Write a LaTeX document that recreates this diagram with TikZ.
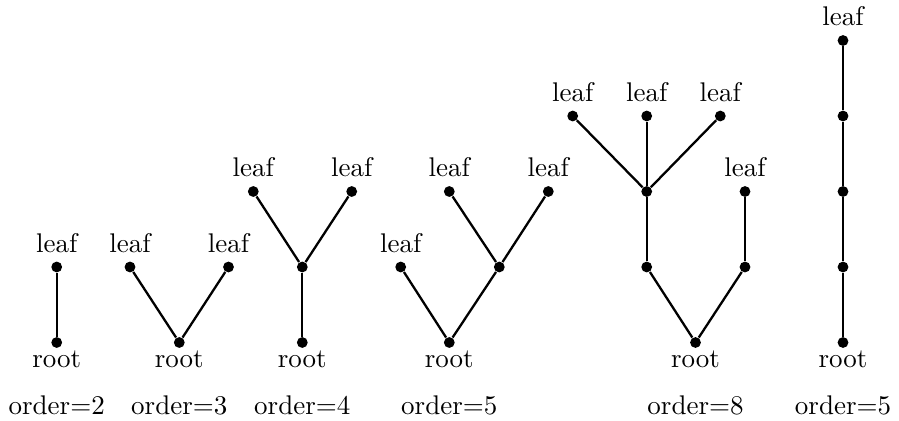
\documentclass[tikz,border=0pt]{standalone}
\begin{document}
\begin{tikzpicture}[x=0.3704pt,y=-0.3704pt,
  vtx/.style={circle,fill=black,inner sep=0pt,minimum size=4pt},
  edge/.style={line width=0.85pt},
  lbl/.style={anchor=base,inner sep=0pt}]
\useasboundingbox (0,0) rectangle (899,420);

% levels (top to bottom): 40.5, 116, 191.5, 267, 342.5
% --- tree of order 2
\node[vtx] (a0) at (56.7,342.5) {};
\node[vtx] (a1) at (56.7,267) {};
\draw[edge] (a0) -- (a1);
\node[lbl] (a0t) at ([yshift=-24.5*0.3704pt]a0) {root};
\node[lbl] (a1t) at ([yshift=15*0.3704pt]a1) {leaf};
\node[lbl] (ao) at (56.7,414.5) {order$=$2};

% --- tree of order 3
\node[vtx] (b0) at (179.3,342.5) {};
\node[vtx] (b1) at (130,267) {};
\node[vtx] (b2) at (228.5,267) {};
\draw[edge] (b1) -- (b0) -- (b2);
\node[lbl] (b0t) at ([yshift=-24.5*0.3704pt]b0) {root};
\node[lbl] (b1t) at ([yshift=15*0.3704pt]b1) {leaf};
\node[lbl] (b2t) at ([yshift=15*0.3704pt]b2) {leaf};
\node[lbl] (bo) at (179.3,414.5) {order$=$3};

% --- tree of order 4
\node[vtx] (c0) at (302.3,342.5) {};
\node[vtx] (c1) at (302.3,267) {};
\node[vtx] (c2) at (253.3,191.5) {};
\node[vtx] (c3) at (351.7,191.5) {};
\draw[edge] (c0) -- (c1);
\draw[edge] (c2) -- (c1) -- (c3);
\node[lbl] (c0t) at ([yshift=-24.5*0.3704pt]c0) {root};
\node[lbl] (c2t) at ([yshift=15*0.3704pt]c2) {leaf};
\node[lbl] (c3t) at ([yshift=15*0.3704pt]c3) {leaf};
\node[lbl] (co) at (302.3,414.5) {order$=$4};

% --- tree of order 5
\node[vtx] (d0) at (449.3,342.5) {};
\node[vtx] (d1) at (400.7,267) {};
\node[vtx] (d2) at (499.3,267) {};
\node[vtx] (d3) at (449.3,191.5) {};
\node[vtx] (d4) at (548.3,191.5) {};
\draw[edge] (d1) -- (d0) -- (d2);
\draw[edge] (d3) -- (d2) -- (d4);
\node[lbl] (d0t) at ([yshift=-24.5*0.3704pt]d0) {root};
\node[lbl] (d1t) at ([yshift=15*0.3704pt]d1) {leaf};
\node[lbl] (d3t) at ([yshift=15*0.3704pt]d3) {leaf};
\node[lbl] (d4t) at ([yshift=15*0.3704pt]d4) {leaf};
\node[lbl] (do) at (449.3,414.5) {order$=$5};

% --- tree of order 8
\node[vtx] (e0) at (695.5,342.5) {};
\node[vtx] (e1) at (646.7,267) {};
\node[vtx] (e2) at (745,267) {};
\node[vtx] (e3) at (646.7,191.5) {};
\node[vtx] (e4) at (745,191.5) {};
\node[vtx] (e5) at (572.7,116) {};
\node[vtx] (e6) at (646.7,116) {};
\node[vtx] (e7) at (720.3,116) {};
\draw[edge] (e1) -- (e0) -- (e2);
\draw[edge] (e1) -- (e3);
\draw[edge] (e2) -- (e4);
\draw[edge] (e3) -- (e5);
\draw[edge] (e3) -- (e6);
\draw[edge] (e3) -- (e7);
\node[lbl] (e0t) at ([yshift=-24.5*0.3704pt]e0) {root};
\node[lbl] (e4t) at ([yshift=15*0.3704pt]e4) {leaf};
\node[lbl] (e5t) at ([yshift=15*0.3704pt]e5) {leaf};
\node[lbl] (e6t) at ([yshift=15*0.3704pt]e6) {leaf};
\node[lbl] (e7t) at ([yshift=15*0.3704pt]e7) {leaf};
\node[lbl] (eo) at (695.5,414.5) {order$=$8};

% --- path of order 5
\node[vtx] (f0) at (843,342.5) {};
\node[vtx] (f1) at (843,267) {};
\node[vtx] (f2) at (843,191.5) {};
\node[vtx] (f3) at (843,116) {};
\node[vtx] (f4) at (843,40.5) {};
\draw[edge] (f0) -- (f1) -- (f2) -- (f3) -- (f4);
\node[lbl] (f0t) at ([yshift=-24.5*0.3704pt]f0) {root};
\node[lbl] (f4t) at ([yshift=15*0.3704pt]f4) {leaf};
\node[lbl] (fo) at (843,414.5) {order$=$5};
\end{tikzpicture}
\end{document}
